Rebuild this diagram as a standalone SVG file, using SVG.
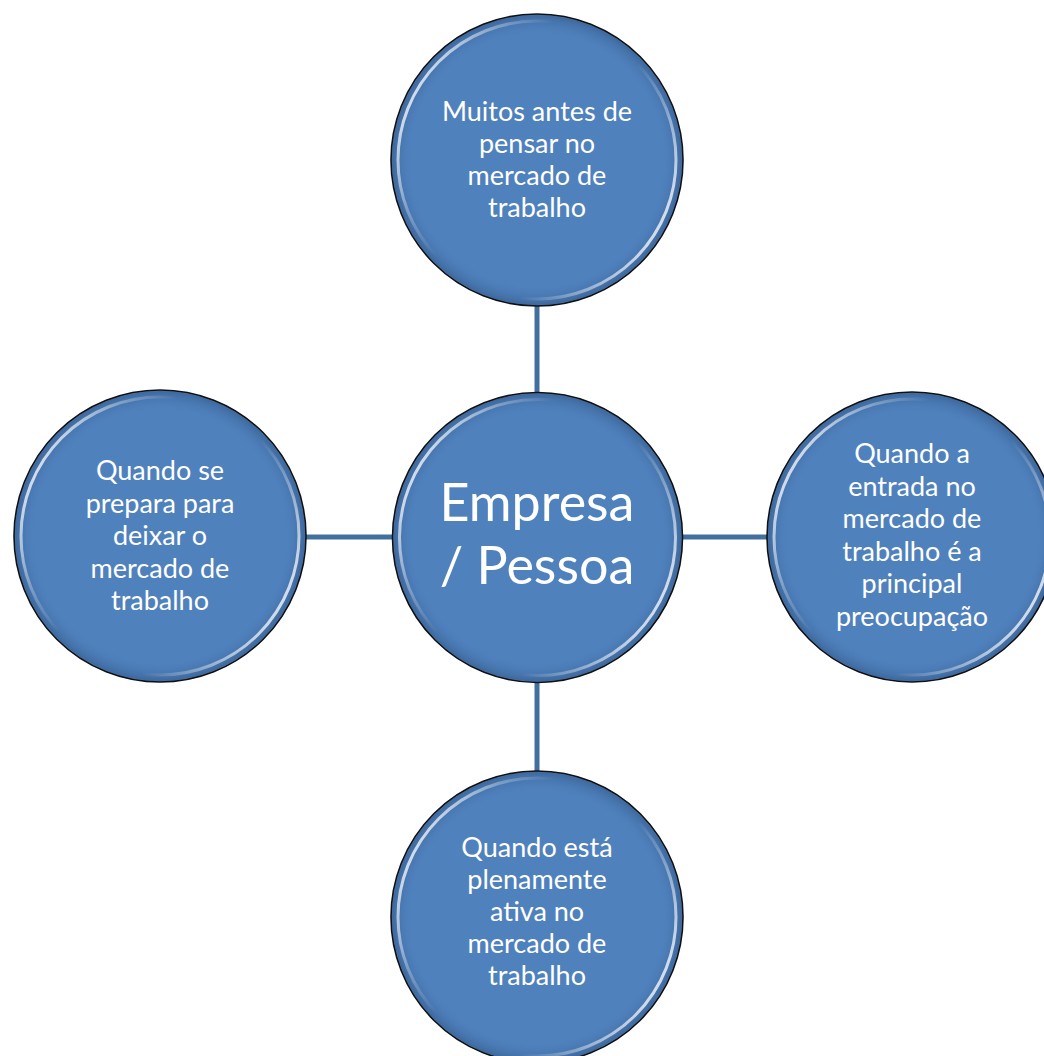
<svg xmlns="http://www.w3.org/2000/svg" width="1044" height="1056" viewBox="0 0 1044 1056">
<defs>
<linearGradient id="hl" x1="0" y1="0.25" x2="1" y2="0.75">
<stop offset="0" stop-color="#ffffff" stop-opacity="0.9"/>
<stop offset="0.2" stop-color="#ffffff" stop-opacity="0.3"/>
<stop offset="0.35" stop-color="#ffffff" stop-opacity="0"/>
<stop offset="0.65" stop-color="#ffffff" stop-opacity="0"/>
<stop offset="0.8" stop-color="#ffffff" stop-opacity="0.35"/>
<stop offset="1" stop-color="#ffffff" stop-opacity="0.9"/>
</linearGradient>
<radialGradient id="shade" cx="0.5" cy="0.5" r="0.5">
<stop offset="0.86" stop-color="#4F81BD" stop-opacity="0"/>
<stop offset="1" stop-color="#2c4f7c" stop-opacity="0.5"/>
</radialGradient>
</defs>
<style>
.disc{fill:#4F81BD;stroke:#111;stroke-width:1.6}
.edge{fill:url(#shade)}
.hl{fill:none;stroke:url(#hl);stroke-width:3}
.t{font-family:Lato,"Open Sans","Liberation Sans",sans-serif;font-size:27px;fill:#fff;text-anchor:middle}
.big{font-size:52px}
.conn line{stroke:#41709F;stroke-width:5}
</style>
<rect width="1044" height="1056" fill="#fff"/>
<g id="connectors" class="conn">
<line x1="537" y1="304" x2="537" y2="394"/>
<line x1="306" y1="537" x2="394" y2="537"/>
<line x1="681" y1="537" x2="769" y2="537"/>
<line x1="537" y1="681" x2="537" y2="771"/>
</g>
<g id="node-top">
<circle class="disc" cx="537" cy="160" r="146"/>
<circle class="edge" cx="537" cy="160" r="145"/>
<circle class="hl" cx="537" cy="160" r="139"/>
<text class="t" x="537"><tspan x="537" y="121">Muitos antes de</tspan><tspan x="537" y="153">pensar no</tspan><tspan x="537" y="185">mercado de</tspan><tspan x="537" y="217">trabalho</tspan></text>
</g>
<g id="node-center">
<circle class="disc" cx="537.5" cy="537.5" r="145"/>
<circle class="edge" cx="537.5" cy="537.5" r="144"/>
<circle class="hl" cx="537.5" cy="537.5" r="138"/>
<text class="t big" x="537"><tspan x="537" y="521">Empresa</tspan><tspan x="537" y="584">/ Pessoa</tspan></text>
</g>
<g id="node-left">
<circle class="disc" cx="160" cy="536" r="146"/>
<circle class="edge" cx="160" cy="536" r="145"/>
<circle class="hl" cx="160" cy="536" r="139"/>
<text class="t" x="160"><tspan x="160" y="480">Quando se</tspan><tspan x="160" y="512.5">prepara para</tspan><tspan x="160" y="545">deixar o</tspan><tspan x="160" y="577.5">mercado de</tspan><tspan x="160" y="610">trabalho</tspan></text>
</g>
<g id="node-right">
<circle class="disc" cx="912" cy="537" r="145"/>
<circle class="edge" cx="912" cy="537" r="144"/>
<circle class="hl" cx="912" cy="537" r="138"/>
<text class="t" x="912"><tspan x="912" y="463">Quando a</tspan><tspan x="912" y="495.5">entrada no</tspan><tspan x="912" y="528">mercado de</tspan><tspan x="912" y="560.5">trabalho é a</tspan><tspan x="912" y="593">principal</tspan><tspan x="912" y="625.5">preocupação</tspan></text>
</g>
<g id="node-bottom">
<circle class="disc" cx="537" cy="917" r="146"/>
<circle class="edge" cx="537" cy="917" r="145"/>
<circle class="hl" cx="537" cy="917" r="139"/>
<text class="t" x="537"><tspan x="537" y="857">Quando está</tspan><tspan x="537" y="889">plenamente</tspan><tspan x="537" y="921">ativa no</tspan><tspan x="537" y="953">mercado de</tspan><tspan x="537" y="985">trabalho</tspan></text>
</g>
</svg>
